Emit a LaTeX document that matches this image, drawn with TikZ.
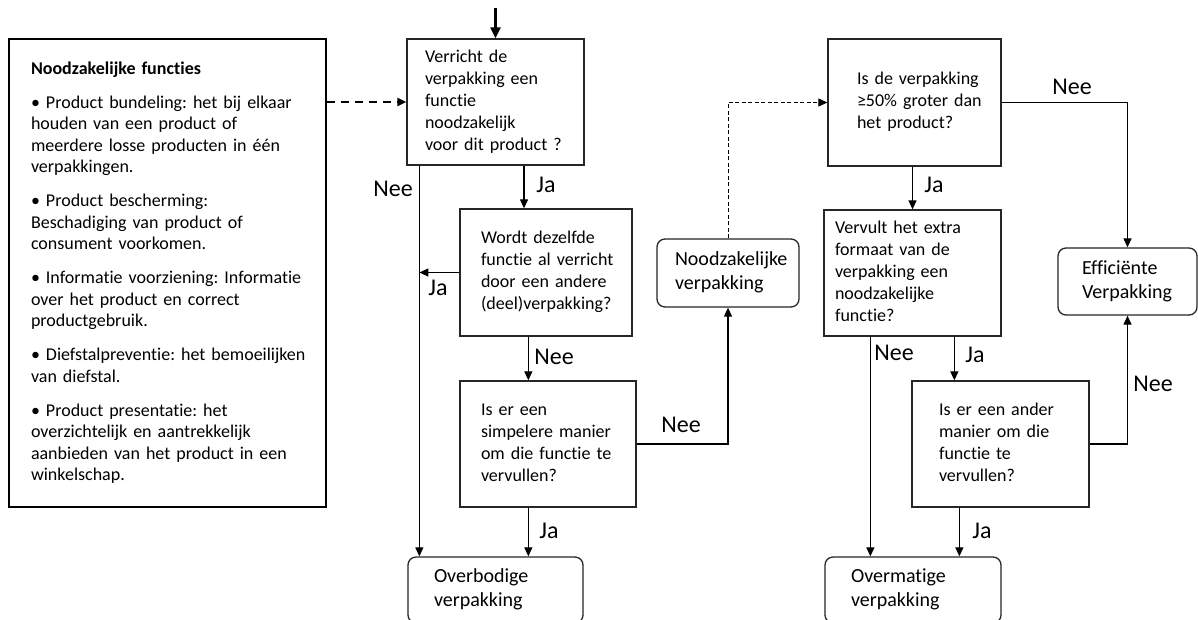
\documentclass[tikz,border=0pt]{standalone}
\usepackage{fontspec}
\setmainfont{Carlito}[Ligatures = NoCommon]
\usetikzlibrary{arrows.meta}
\frenchspacing

% tekstregels zonder afbreken
\newcommand{\regels}[1]{\begin{tabular}{@{}l@{}}#1\end{tabular}}

\begin{document}
\begin{tikzpicture}[x = 1pt, y = -1pt,
		vraag/.style = {draw = black!85, line width = 1.3pt, align = left, font = \fontsize{18}{22}\selectfont},
		eind/.style = {vraag, rounded corners = 8pt, font = \fontsize{20}{24}\selectfont},
		pijl/.style = {line width = 1.2pt, -{Triangle[length = 9pt, width = 8pt]}},
		streep/.style = {pijl, line width = 2pt, dash pattern = on 8pt off 6pt},
		stippel/.style = {pijl, line width = 1pt, dash pattern = on 4pt off 2.5pt},
		antwoord/.style = {font = \fontsize{24}{28}\selectfont, inner sep = 0pt}]
	\useasboundingbox (0, 0) rectangle (1198, 619);
	\fill [white] (0, 0) rectangle (1198, 619);

	\coordinate (start) at (495.5, 8);

	\node [draw, line width = 2.6pt, align = left, text width = 273pt, inner xsep = 22pt, minimum height = 468pt, font = \fontsize{18}{21.5}\selectfont] (info) at (167.5, 273) {\regels{\textbf{Noodzakelijke functies}\\[12.5pt]
		• Product bundeling: het bij elkaar\\ houden van een product of\\ meerdere losse producten in één\\ verpakkingen.\\[12.5pt]
		• Product bescherming:\\ Beschadiging van product of\\ consument voorkomen.\\[12.5pt]
		• Informatie voorziening: Informatie\\ over het product en correct\\ productgebruik.\\[12.5pt]
		• Diefstalpreventie: het bemoeilijken\\ van diefstal.\\[12.5pt]
		• Product presentatie: het\\ overzichtelijk en aantrekkelijk\\ aanbieden van het product in een\\ winkelschap.}};

	\node [vraag, text width = 141pt, inner xsep = 18pt, minimum height = 126pt] (vraag1) at (495.5, 102) {\regels{Verricht de\\ verpakking een\\ functie\\ noodzakelijk\\ voor dit product ?}};
	\node [vraag, text width = 130pt, inner xsep = 21pt, minimum height = 127pt] (vraag2) at (546, 272.5) {\regels{Wordt dezelfde\\ functie al verricht\\ door een andere\\ (deel)verpakking?}};
	\node [vraag, text width = 134pt, inner xsep = 21pt, minimum height = 126pt] (vraag3) at (548, 444) {\regels{Is er een\\ simpelere manier\\ om die functie te\\ vervullen?}};
	\node [eind, text width = 106pt, inner xsep = 18pt, minimum height = 68pt] (nood) at (728, 273) {\regels{Noodzakelijke\\ verpakking}};
	\node [eind, text width = 123pt, inner xsep = 26pt, minimum height = 66pt] (overbodig) at (495.5, 590) {\regels{Overbodige\\ verpakking}};

	\node [vraag, text width = 115pt, inner xsep = 29pt, minimum height = 127pt] (vraag4) at (914.5, 102.5) {\regels{Is de verpakking\\ ≥50\% groter dan\\ het product?}};
	\node [vraag, text width = 155pt, inner xsep = 11pt, minimum height = 126pt] (vraag5) at (912.5, 273) {\regels{Vervult het extra\\ formaat van de\\ verpakking een\\ noodzakelijke\\ functie?}};
	\node [vraag, text width = 123pt, inner xsep = 27pt, minimum height = 126pt] (vraag6) at (1000.5, 444) {\regels{Is er een ander\\ manier om die\\ functie te\\ vervullen?}};
	\node [eind, text width = 91pt, inner xsep = 24pt, minimum height = 67pt] (eff) at (1127.5, 281.5) {\regels{Efficiënte\\ Verpakking}};
	\node [eind, text width = 124pt, inner xsep = 26pt, minimum height = 66pt] (overmatig) at (913, 590) {\regels{Overmatige\\ verpakking}};

	\coordinate (nee1) at ([xshift = 13pt] vraag1.south west);

	\draw [pijl, line width = 2.4pt, -{Triangle[length = 11pt, width = 10pt]}] (start) -- (vraag1.north);
	\draw [streep] (info.east |- vraag1.west) -- (vraag1.west);
	\draw [pijl] ([xshift = 28.5pt] vraag1.south) -- ([xshift = 28.5pt] vraag1.south |- vraag2.north);
	\draw [pijl] (nee1) -- (nee1 |- overbodig.north);
	\draw [pijl] (vraag2.west) -- (vraag2.west -| nee1);
	\draw [pijl] ([xshift = 69pt] vraag2.south west) -- ([xshift = 69pt] vraag2.south west |- vraag3.north);
	\draw [pijl] ([xshift = 69pt] vraag3.south west) -- ([xshift = 69pt] vraag3.south west |- overbodig.north);
	\draw [pijl] (vraag3.east) -| (nood.south);
	\draw [stippel] (nood.north) |- (vraag4.west);

	\draw [pijl] (vraag4.east) -| (eff.north);
	\draw [pijl] (vraag5.north |- vraag4.south) -- (vraag5.north);
	\draw [pijl] ([xshift = 47pt] vraag5.south west) -- ([xshift = 47pt] vraag5.south west |- overmatig.north);
	\draw [pijl] ([xshift = 131pt] vraag5.south west) -- ([xshift = 131pt] vraag5.south west |- vraag6.north);
	\draw [pijl] ([xshift = 48pt] vraag6.south west) -- ([xshift = 48pt] vraag6.south west |- overmatig.north);
	\draw [pijl] (vraag6.east) -| (eff.south);

	\node [antwoord] (ja1) at (546, 185) {Ja};
	\node [antwoord] (nee2) at (393, 189) {Nee};
	\node [antwoord] (ja2) at (438, 288) {Ja};
	\node [antwoord] (nee3) at (554, 357) {Nee};
	\node [antwoord] (ja3) at (549, 531) {Ja};
	\node [antwoord] (nee4) at (681, 425) {Nee};
	\node [antwoord] (nee5) at (1072, 87) {Nee};
	\node [antwoord] (ja4) at (934, 185) {Ja};
	\node [antwoord] (nee6) at (894, 353) {Nee};
	\node [antwoord] (ja5) at (975, 355) {Ja};
	\node [antwoord] (nee7) at (1153, 384) {Nee};
	\node [antwoord] (ja6) at (982, 531) {Ja};
\end{tikzpicture}
\end{document}
